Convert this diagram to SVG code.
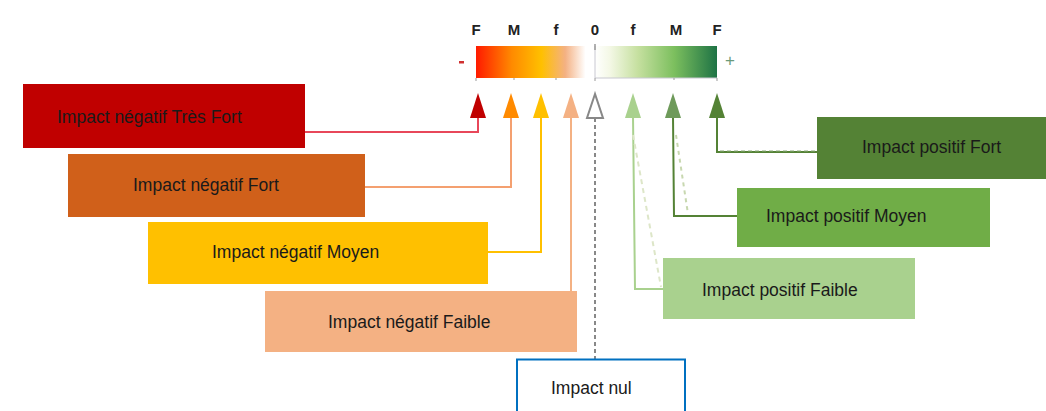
<svg xmlns="http://www.w3.org/2000/svg" width="1046" height="411" viewBox="0 0 1046 411">
<defs>
<linearGradient id="gNeg" x1="476" y1="0" x2="595" y2="0" gradientUnits="userSpaceOnUse">
<stop offset="0" stop-color="#ff1a00"/>
<stop offset="0.3" stop-color="#ff8a00"/>
<stop offset="0.55" stop-color="#ffc000"/>
<stop offset="0.75" stop-color="#f4b183"/>
<stop offset="0.92" stop-color="#ffffff"/>
<stop offset="1" stop-color="#ffffff"/>
</linearGradient>
<linearGradient id="gPos" x1="595" y1="0" x2="717" y2="0" gradientUnits="userSpaceOnUse">
<stop offset="0" stop-color="#ffffff"/>
<stop offset="0.12" stop-color="#f4f8e6"/>
<stop offset="0.35" stop-color="#c6e0a0"/>
<stop offset="0.65" stop-color="#7cbf5e"/>
<stop offset="1" stop-color="#1e7345"/>
</linearGradient>
<style>
.lbl{font-family:"Liberation Sans",Arial,sans-serif;font-size:17.5px;fill:#1a1a1a}
.sc{font-family:"Liberation Sans",Arial,sans-serif;font-size:15px;font-weight:bold;fill:#222;text-anchor:middle}
.ln{fill:none;stroke-width:2}
</style>
</defs>

<g id="scale">
<text class="sc" x="476" y="35">F</text>
<text class="sc" x="514" y="35">M</text>
<text class="sc" x="556" y="35">f</text>
<text class="sc" x="595" y="35">0</text>
<text class="sc" x="633" y="35">f</text>
<text class="sc" x="676" y="35">M</text>
<text class="sc" x="717" y="35">F</text>
<rect x="476" y="46" width="119" height="32" fill="url(#gNeg)"/>
<rect x="595" y="46" width="122" height="32" fill="url(#gPos)"/>
<path d="M595 46 V78 H717" fill="none" stroke="#c8c8d0" stroke-width="1"/>
<path d="M595 44 V50" stroke="#999" stroke-width="1.5"/>
<path d="M476 78v3M514 78v2M556 78v2M595 78v3M674 78v2M717 78v3" stroke="#999" stroke-width="1"/>
<rect x="459" y="61" width="5" height="2.5" fill="#d03030"/>
<text x="730" y="66" font-family="Liberation Sans,Arial,sans-serif" font-size="17" fill="#6a9a7a" text-anchor="middle">+</text>
</g>

<g id="connectors">
<polyline class="ln" stroke="#e8475a" points="305,132 478,132 478,116"/>
<polyline class="ln" stroke="#f4a070" points="365,187 511,187 511,116"/>
<polyline class="ln" stroke="#ffc000" points="488,252 541,252 541,116"/>
<polyline class="ln" stroke="#f4b183" points="571,291 571,116"/>
<line x1="595" y1="118" x2="595" y2="359" stroke="#888" stroke-width="2" stroke-dasharray="4,3"/>
<polyline class="ln" stroke="#a9d18e" points="663,289 635,289 633,116"/>
<line x1="633" y1="135" x2="661" y2="287" stroke="#dde6c8" stroke-width="2" stroke-dasharray="5,4"/>
<polyline class="ln" stroke="#548235" points="737,216 674,216 673,116"/>
<line x1="676" y1="135" x2="688" y2="214" stroke="#c8d8b0" stroke-width="2" stroke-dasharray="4,4"/>
<polyline class="ln" stroke="#548235" stroke-width="2.5" points="817,152 717,152 717,116"/>
<line x1="720" y1="151" x2="815" y2="151" stroke="#8aa878" stroke-width="1" stroke-dasharray="4,3"/>
<polygon points="478,93 470,118 486,118" fill="#c00000"/>
<polygon points="511,93 503,118 519,118" fill="#ff8a00"/>
<polygon points="541,93 533,118 549,118" fill="#ffc000"/>
<polygon points="571,93 563,118 579,118" fill="#f4b183"/>
<polygon points="595,94 587,118 603,118" fill="#fff" stroke="#888" stroke-width="2"/>
<polygon points="633,93 625,118 641,118" fill="#a9d18e"/>
<polygon points="673,93 665,118 681,118" fill="#6e9a5a"/>
<polygon points="717,93 709,118 725,118" fill="#548235"/>
</g>

<g id="neg-tres-fort">
<rect x="23" y="84" width="282" height="64" fill="#c00000"/>
<text class="lbl" x="57" y="123">Impact négatif Très Fort</text>
</g>
<g id="neg-fort">
<rect x="68" y="154" width="297" height="63" fill="#d0601a"/>
<text class="lbl" x="133" y="191">Impact négatif Fort</text>
</g>
<g id="neg-moyen">
<rect x="148" y="222" width="340" height="62" fill="#ffc000"/>
<text class="lbl" x="212" y="258">Impact négatif Moyen</text>
</g>
<g id="neg-faible">
<rect x="265" y="291" width="312" height="61" fill="#f4b183"/>
<text class="lbl" x="328" y="328">Impact négatif Faible</text>
</g>
<g id="nul">
<rect x="517" y="359.5" width="168" height="60" fill="#fff" stroke="#0070c0" stroke-width="2"/>
<text class="lbl" x="551" y="394">Impact nul</text>
</g>
<g id="pos-fort">
<rect x="817" y="117" width="229" height="62" fill="#548235"/>
<text class="lbl" x="862" y="153">Impact positif Fort</text>
</g>
<g id="pos-moyen">
<rect x="737" y="188" width="253" height="59" fill="#70ad47"/>
<text class="lbl" x="766" y="222">Impact positif Moyen</text>
</g>
<g id="pos-faible">
<rect x="663" y="258" width="252" height="61" fill="#a9d18e"/>
<text class="lbl" x="702" y="296">Impact positif Faible</text>
</g>
</svg>
